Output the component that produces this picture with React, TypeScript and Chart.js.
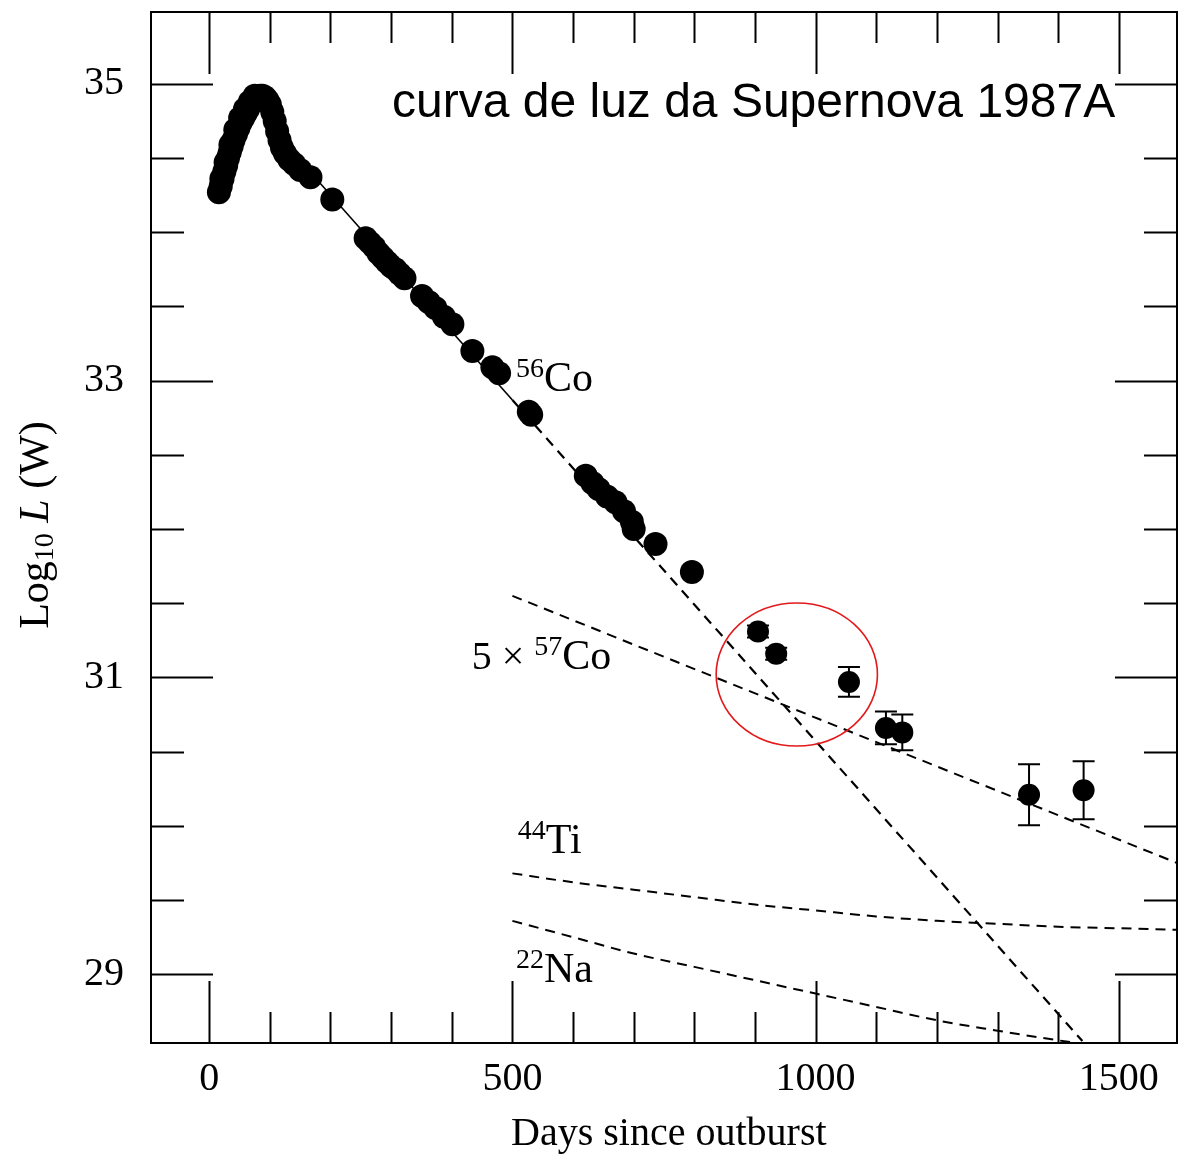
import React, { useEffect, useRef } from "react";
import { Chart, registerables } from "chart.js";

Chart.register(...registerables);

// ---- Data (days since outburst, log10 L in watts) ----
const lightDays = [16, 19, 20, 22, 25, 27, 28, 31, 34, 35, 37, 40, 43, 44, 48, 51, 52, 56, 59, 60, 64, 67, 68, 72, 75, 76, 80, 84, 88, 92, 96, 100, 104, 108, 112, 116, 120, 125, 132, 140, 150, 167, 203, 258, 265, 272, 279, 286, 293, 300, 307, 314, 322, 351, 362, 373, 387, 401, 434, 467, 478, 527, 531, 621, 632, 642, 656, 670, 684, 697, 700, 736, 796];
const lightLogL = [34.27, 34.31, 34.36, 34.36, 34.41, 34.47, 34.45, 34.5, 34.54, 34.59, 34.58, 34.62, 34.69, 34.66, 34.7, 34.77, 34.74, 34.77, 34.83, 34.8, 34.83, 34.88, 34.86, 34.88, 34.92, 34.9, 34.91, 34.92, 34.92, 34.91, 34.89, 34.86, 34.81, 34.75, 34.68, 34.62, 34.57, 34.53, 34.49, 34.46, 34.42, 34.37, 34.22, 33.96, 33.93, 33.9, 33.86, 33.83, 33.8, 33.77, 33.75, 33.72, 33.69, 33.57, 33.53, 33.49, 33.43, 33.38, 33.2, 33.09, 33.05, 32.79, 32.77, 32.36, 32.31, 32.27, 32.22, 32.18, 32.12, 32.05, 32.0, 31.9, 31.71];

const errDays = [905, 935, 1055, 1116, 1143, 1352, 1442];
const errLogL = [31.31, 31.16, 30.97, 30.66, 30.63, 30.21, 30.24];
const errSize = [0.04, 0.04, 0.1, 0.11, 0.12, 0.205, 0.195];

const co56Days = [120, 500, 1440];
const co56LogL = [34.62, 32.87, 28.55];

const co57Days = [500, 1596];
const co57LogL = [31.55, 29.75];

const ti44Days = [500, 600, 700, 800, 900, 1000, 1100, 1200, 1300, 1400, 1500, 1596];
const ti44LogL = [29.68, 29.62, 29.57, 29.52, 29.47, 29.43, 29.39, 29.36, 29.34, 29.32, 29.31, 29.3];

const na22Days = [500, 600, 700, 800, 900, 1000, 1100, 1200, 1300, 1400, 1460];
const na22LogL = [29.36, 29.25, 29.14, 29.05, 28.96, 28.87, 28.78, 28.69, 28.62, 28.555, 28.52];

// ---- Axes ----
const xMin = -96;
const xMax = 1596;
const yMin = 28.537;
const yMax = 35.484;
const xTickValues = [0, 100, 200, 300, 400, 500, 600, 700, 800, 900, 1000, 1100, 1200, 1300, 1400, 1500];
const xTickLabels = ["0", "", "", "", "", "500", "", "", "", "", "1000", "", "", "", "", "1500"];
const yTickValues = [29, 29.5, 30, 30.5, 31, 31.5, 32, 32.5, 33, 33.5, 34, 34.5, 35];
const yTickLabels = ["29", "", "", "", "31", "", "", "", "33", "", "", "", "35"];

const titleText = "curva de luz da Supernova 1987A";
const xTitleText = "Days since outburst";

// Annotation anchors in data coordinates (left edge, baseline)
const labelCo56 = { day: 506, logL: 32.93, sup: "56", main: "Co", pre: "" };
const labelCo57 = { day: 433, logL: 31.06, sup: "57", main: "Co", pre: "5 × " };
const labelTi44 = { day: 509, logL: 29.815, sup: "44", main: "Ti", pre: "" };
const labelNa22 = { day: 506, logL: 28.95, sup: "22", main: "Na", pre: "" };
const titleAnchor = { day: 301.5, logL: 34.778 };
const xTitleAnchor = { day: 758, px: 1134 };
const highlight = { day: 969, logL: 31.02, rDays: 133, rLogL: 0.482 };

const SERIF = '"Liberation Serif", "Times New Roman", serif';
const SANS = '"Liberation Sans", Arial, sans-serif';

const toXY = (xs: number[], ys: number[]) => xs.map((x, i) => ({ x, y: ys[i] }));

const decorPlugin = {
  id: "decor",
  afterDatasetsDraw(chart: any) {
    const { ctx, chartArea: a } = chart;
    const x = chart.scales.x;
    const y = chart.scales.y;
    ctx.save();
    ctx.strokeStyle = "#000";
    ctx.fillStyle = "#000";

    // error bars
    ctx.lineWidth = 2;
    errDays.forEach((d, i) => {
      const px = x.getPixelForValue(d);
      const top = y.getPixelForValue(errLogL[i] + errSize[i]);
      const bot = y.getPixelForValue(errLogL[i] - errSize[i]);
      ctx.beginPath();
      ctx.moveTo(px, top);
      ctx.lineTo(px, bot);
      ctx.moveTo(px - 11, top);
      ctx.lineTo(px + 11, top);
      ctx.moveTo(px - 11, bot);
      ctx.lineTo(px + 11, bot);
      ctx.stroke();
    });

    // frame
    ctx.lineWidth = 2;
    ctx.strokeRect(a.left, a.top, a.right - a.left, a.bottom - a.top);

    // inward ticks (long where a label is printed)
    ctx.beginPath();
    x.ticks.forEach((t: any, i: number) => {
      const len = xTickLabels[i] ? 62 : 31;
      const px = Math.round(x.getPixelForValue(t.value)) + 0.5;
      ctx.moveTo(px, a.top);
      ctx.lineTo(px, a.top + len);
      ctx.moveTo(px, a.bottom);
      ctx.lineTo(px, a.bottom - len);
    });
    y.ticks.forEach((t: any, i: number) => {
      const len = yTickLabels[i] ? 62 : 33;
      const py = Math.round(y.getPixelForValue(t.value)) + 0.5;
      ctx.moveTo(a.left, py);
      ctx.lineTo(a.left + len, py);
      ctx.moveTo(a.right, py);
      ctx.lineTo(a.right - len, py);
    });
    ctx.stroke();

    // isotope labels
    const drawIso = (lab: any) => {
      let px = x.getPixelForValue(lab.day);
      const py = y.getPixelForValue(lab.logL);
      ctx.textBaseline = "alphabetic";
      ctx.textAlign = "left";
      if (lab.pre) {
        ctx.font = `40px ${SERIF}`;
        ctx.fillText(lab.pre, px, py);
        px += ctx.measureText(lab.pre).width;
      }
      ctx.font = `28px ${SERIF}`;
      ctx.fillText(lab.sup, px, py - 14);
      px += ctx.measureText(lab.sup).width;
      ctx.font = `42px ${SERIF}`;
      ctx.fillText(lab.main, px, py);
    };
    [labelCo56, labelCo57, labelTi44, labelNa22].forEach(drawIso);

    // title inside plot
    ctx.font = `48px ${SANS}`;
    ctx.textAlign = "left";
    ctx.textBaseline = "alphabetic";
    ctx.fillText(titleText, x.getPixelForValue(titleAnchor.day), y.getPixelForValue(titleAnchor.logL));

    // x-axis title
    ctx.font = `40px ${SERIF}`;
    ctx.textAlign = "center";
    ctx.textBaseline = "middle";
    ctx.fillText(xTitleText, x.getPixelForValue(xTitleAnchor.day), xTitleAnchor.px);

    // y-axis title with subscript and italic L
    ctx.save();
    ctx.translate(37, 525);
    ctx.rotate(-Math.PI / 2);
    ctx.textBaseline = "middle";
    ctx.textAlign = "left";
    const parts = [
      { t: "Log", f: `42px ${SERIF}`, dy: 0 },
      { t: "10", f: `28px ${SERIF}`, dy: 9 },
      { t: " ", f: `42px ${SERIF}`, dy: 0 },
      { t: "L", f: `italic 42px ${SERIF}`, dy: 0 },
      { t: " (W)", f: `42px ${SERIF}`, dy: 0 },
    ];
    let total = 0;
    parts.forEach((p) => {
      ctx.font = p.f;
      total += ctx.measureText(p.t).width;
    });
    let cx = -total / 2;
    parts.forEach((p) => {
      ctx.font = p.f;
      ctx.fillText(p.t, cx, p.dy);
      cx += ctx.measureText(p.t).width;
    });
    ctx.restore();

    // red highlight ellipse
    const ex = x.getPixelForValue(highlight.day);
    const ey = y.getPixelForValue(highlight.logL);
    const rx = Math.abs(x.getPixelForValue(highlight.day + highlight.rDays) - ex);
    const ry = Math.abs(y.getPixelForValue(highlight.logL + highlight.rLogL) - ey);
    ctx.strokeStyle = "#e31a1c";
    ctx.lineWidth = 1.6;
    ctx.beginPath();
    ctx.ellipse(ex, ey, rx, ry, 0, 0, Math.PI * 2);
    ctx.stroke();

    ctx.restore();
  },
};

export default function App() {
  const canvasRef = useRef<HTMLCanvasElement | null>(null);

  useEffect(() => {
    if (!canvasRef.current) return;
    const dashed = [10, 7];
    const lineBase = {
      type: "line" as const,
      showLine: true,
      pointRadius: 0,
      pointHoverRadius: 0,
      borderColor: "#000",
      backgroundColor: "#000",
      borderWidth: 2,
      fill: false,
    };
    const chart = new Chart(canvasRef.current, {
      type: "scatter",
      data: {
        datasets: [
          {
            label: "bolometric",
            data: toXY(lightDays, lightLogL),
            pointRadius: 12,
            pointBorderWidth: 0,
            backgroundColor: "#000",
            borderColor: "#000",
          },
          {
            label: "late",
            data: toXY(errDays, errLogL),
            pointRadius: 11,
            pointBorderWidth: 0,
            backgroundColor: "#000",
            borderColor: "#000",
          },
          {
            ...lineBase,
            label: "56Co",
            data: toXY(co56Days, co56LogL),
            segment: {
              borderDash: (c: any) => (c.p0.parsed.x >= 500 ? dashed : []),
              borderWidth: (c: any) => (c.p0.parsed.x >= 500 ? 2.2 : 1.6),
            },
          },
          { ...lineBase, label: "57Co", data: toXY(co57Days, co57LogL), borderDash: dashed },
          { ...lineBase, label: "44Ti", data: toXY(ti44Days, ti44LogL), borderDash: dashed, cubicInterpolationMode: "monotone" },
          { ...lineBase, label: "22Na", data: toXY(na22Days, na22LogL), borderDash: dashed, cubicInterpolationMode: "monotone" },
        ] as any,
      },
      options: {
        responsive: false,
        animation: false,
        devicePixelRatio: 1,
        layout: { padding: { top: 10, right: 11, left: 0, bottom: 0 } },
        plugins: {
          legend: { display: false },
          tooltip: { enabled: false },
          title: { display: false },
        },
        scales: {
          x: {
            type: "linear",
            min: xMin,
            max: xMax,
            afterBuildTicks: (s: any) => {
              s.ticks = xTickValues.map((v) => ({ value: v }));
            },
            afterFit: (s: any) => {
              s.height = 120;
              s.paddingLeft = 0;
              s.paddingRight = 0;
            },
            grid: { display: false },
            border: { display: false },
            ticks: {
              autoSkip: false,
              maxRotation: 0,
              padding: 4,
              color: "#000",
              font: { family: SERIF, size: 40 },
              callback: (_v: any, i: number) => xTickLabels[i],
            },
            title: { display: false },
          },
          y: {
            type: "linear",
            min: yMin,
            max: yMax,
            afterBuildTicks: (s: any) => {
              s.ticks = yTickValues.map((v) => ({ value: v }));
            },
            afterFit: (s: any) => {
              s.width = 151;
              s.paddingTop = 0;
              s.paddingBottom = 0;
            },
            grid: { display: false },
            border: { display: false },
            ticks: {
              autoSkip: false,
              padding: 19,
              color: "#000",
              font: { family: SERIF, size: 40 },
              callback: (_v: any, i: number) => yTickLabels[i],
            },
          },
        },
      } as any,
      plugins: [decorPlugin],
    });
    return () => chart.destroy();
  }, []);

  return (
    <div style={{ position: "absolute", left: 0, top: 0, width: 1189, height: 1163, background: "#fff" }}>
      <canvas ref={canvasRef} width={1189} height={1163} style={{ display: "block" }} />
    </div>
  );
}
